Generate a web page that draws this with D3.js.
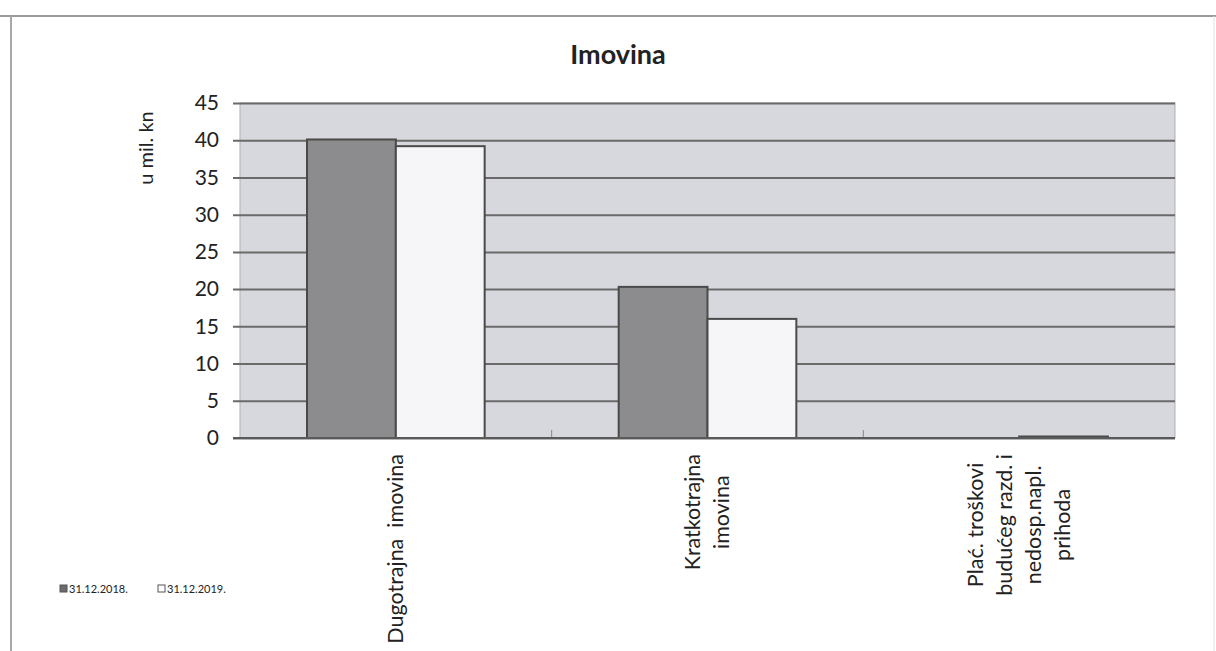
<!DOCTYPE html>
<html>
<head>
<meta charset="utf-8">
<script src="https://cdn.jsdelivr.net/npm/d3@7"></script>
<style>
  body { margin: 0; background: #ffffff; }
  svg text { font-family: Lato, "Liberation Sans", sans-serif; fill: #222; }
</style>
</head>
<body>
<svg id="chart"></svg>
<script>
// categories (x axis), one label line per array entry
const categories = [
  ["Dugotrajna  imovina"],
  ["Kratkotrajna", "imovina"],
  ["Plać. troškovi", "budućeg razd. i", "nedosp.napl.", "prihoda"]
];
const seriesNames = ["31.12.2018.", "31.12.2019."];
const values2018 = [40.1, 20.3, 0];
const values2019 = [39.2, 16.0, 0.2];
const yTicks = [0, 5, 10, 15, 20, 25, 30, 35, 40, 45];
const chartTitle = "Imovina";
const yTitle = "u mil. kn";

class barChart {
  constructor(_config) {
    this.config = {
      parentElement: _config.parentElement,
      containerWidth: _config.containerWidth || 1216,
      containerHeight: _config.containerHeight || 651,
      margin: {top: 103, right: 41, bottom: 213, left: 240}
    };
    this.initVis();
  }

  initVis() {
    let vis = this;

    vis.width = vis.config.containerWidth - vis.config.margin.left - vis.config.margin.right;
    vis.height = vis.config.containerHeight - vis.config.margin.top - vis.config.margin.bottom;

    vis.svg = d3.select(vis.config.parentElement)
      .attr("width", vis.config.containerWidth)
      .attr("height", vis.config.containerHeight);

    // scanned page frame
    vis.svg.append("line")
      .attr("x1", 0).attr("x2", vis.config.containerWidth)
      .attr("y1", 16).attr("y2", 16)
      .attr("stroke", "#9a9a9a").attr("stroke-width", 2);
    vis.svg.append("line")
      .attr("x1", 11).attr("x2", 11)
      .attr("y1", 16).attr("y2", vis.config.containerHeight)
      .attr("stroke", "#a8a8a8").attr("stroke-width", 2);
    vis.svg.append("line")
      .attr("x1", 1214).attr("x2", 1214)
      .attr("y1", 16).attr("y2", vis.config.containerHeight)
      .attr("stroke", "#e2e2e2").attr("stroke-width", 1);

    vis.chart = vis.svg.append("g")
      .attr("transform", `translate(${vis.config.margin.left},${vis.config.margin.top})`);

    vis.xScale = d3.scaleBand()
      .domain(d3.range(categories.length))
      .range([0, vis.width])
      .paddingInner(0.43)
      .paddingOuter(0.215);

    vis.xSub = d3.scaleBand()
      .domain(seriesNames)
      .range([0, vis.xScale.bandwidth()]);

    vis.yScale = d3.scaleLinear()
      .domain([0, 45])
      .range([vis.height, 0]);

    vis.yAxis = d3.axisLeft(vis.yScale)
      .tickValues(yTicks)
      .tickSize(vis.width + 7)
      .tickPadding(14);

    vis.renderVis();
  }

  renderVis() {
    let vis = this;

    // plot area
    vis.chart.append("rect")
      .attr("width", vis.width)
      .attr("height", vis.height)
      .attr("fill", "#d6d8dd")
      .attr("stroke", "#b0b0b4");

    // gridlines + tick labels
    vis.yAxisG = vis.chart.append("g")
      .attr("transform", `translate(${vis.width},0)`)
      .call(vis.yAxis);
    vis.yAxisG.select(".domain").remove();
    vis.yAxisG.selectAll(".tick line")
      .attr("stroke", "#6a6a6a")
      .attr("stroke-width", 2);
    vis.yAxisG.selectAll(".tick text")
      .attr("font-size", 21)
      .attr("fill", "#222");

    // category separators on the baseline
    vis.chart.append("g")
      .selectAll("line")
      .data(d3.range(1, categories.length))
      .join("line")
      .attr("x1", d => d * vis.xScale.step())
      .attr("x2", d => d * vis.xScale.step())
      .attr("y1", vis.height - 8)
      .attr("y2", vis.height)
      .attr("stroke", "#888");

    const rows = categories.map((c, i) => ({i: i, v: [values2018[i], values2019[i]]}));

    const groups = vis.chart.append("g")
      .selectAll("g")
      .data(rows)
      .join("g")
      .attr("transform", d => `translate(${vis.xScale(d.i)},0)`);

    groups.selectAll("rect")
      .data(d => d.v.map((v, k) => ({s: seriesNames[k], v: v})))
      .join("rect")
      .filter(d => d.v > 0)
      .attr("x", d => vis.xSub(d.s))
      .attr("y", d => vis.yScale(d.v))
      .attr("width", vis.xSub.bandwidth())
      .attr("height", d => vis.height - vis.yScale(d.v))
      .attr("fill", d => d.s === seriesNames[0] ? "#8c8c8e" : "#f6f6f8")
      .attr("stroke", "#4a4a4a")
      .attr("stroke-width", 2);

    // baseline
    vis.chart.append("line")
      .attr("x1", -7).attr("x2", vis.width)
      .attr("y1", vis.height).attr("y2", vis.height)
      .attr("stroke", "#5a5a5a").attr("stroke-width", 2);

    // rotated category labels, block anchored under the axis, lines centred
    const lineGap = 29;
    const labels = vis.chart.append("g")
      .selectAll("g")
      .data(categories)
      .join("g");

    labels.each(function(lines, i) {
      const g = d3.select(this);
      const cx = vis.xScale(i) + vis.xScale.bandwidth() / 2;
      const texts = g.selectAll("text")
        .data(lines)
        .join("text")
        .attr("font-size", 21.5)
        .attr("text-anchor", "middle")
        .style("white-space", "pre")
        .text(d => d);
      let maxLen = 0;
      texts.each(function() { maxLen = Math.max(maxLen, this.getComputedTextLength()); });
      const top = vis.height + 16;
      const first = cx - (lines.length - 1) * lineGap / 2;
      texts.attr("transform", (d, k) =>
        `translate(${first + k * lineGap + 7},${top + maxLen / 2}) rotate(-90)`);
    });

    // title
    vis.svg.append("text")
      .attr("x", 618)
      .attr("y", 64)
      .attr("text-anchor", "middle")
      .attr("font-size", 27)
      .attr("font-weight", "bold")
      .text(chartTitle);

    // y axis title
    vis.svg.append("text")
      .attr("transform", "translate(153,148) rotate(-90)")
      .attr("text-anchor", "middle")
      .attr("font-size", 20)
      .text(yTitle);

    // legend
    const legend = vis.svg.append("g")
      .attr("transform", "translate(60,593)");
    const items = legend.selectAll("g")
      .data(seriesNames)
      .join("g")
      .attr("transform", (d, i) => `translate(${i * 98},0)`);
    items.append("rect")
      .attr("x", 0).attr("y", -8)
      .attr("width", 7).attr("height", 7)
      .attr("fill", (d, i) => i === 0 ? "#6c6c6c" : "#ffffff")
      .attr("stroke", "#555");
    items.append("text")
      .attr("x", 9)
      .attr("y", 0)
      .attr("font-size", 11)
      .attr("fill", "#555")
      .text(d => d);
  }
}

new barChart({parentElement: "#chart"});
</script>
</body>
</html>
